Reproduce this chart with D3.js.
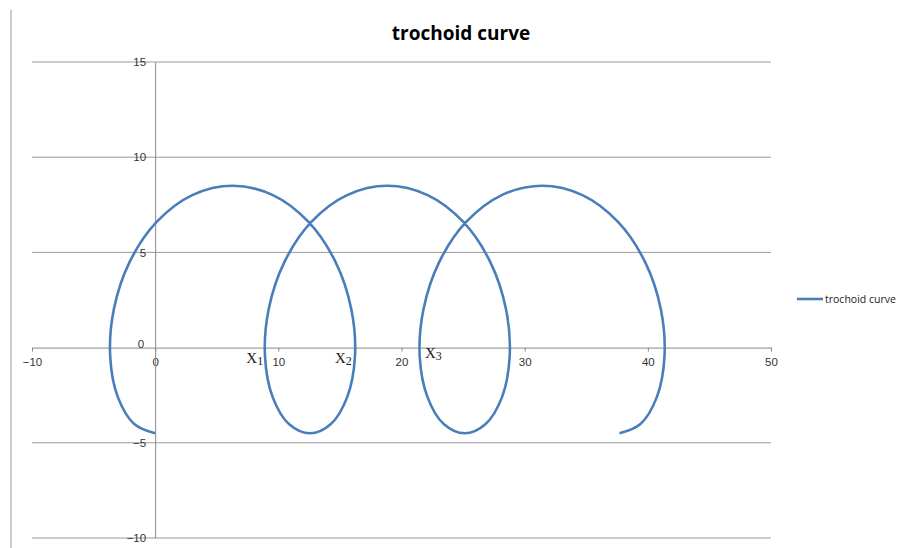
<!DOCTYPE html>
<html>
<head>
<meta charset="utf-8">
<script src="https://cdn.jsdelivr.net/npm/d3@7"></script>
<style>
  body { margin: 0; background: #fff; }
  svg { font-family: "Open Sans", "Liberation Sans", sans-serif; }
</style>
</head>
<body>
<svg id="chart" width="899" height="548"></svg>
<script>
// curve points (x, y)
const curveX = [0, -1.70, -3.03, -3.65, -3.36, -2.08, 0.12, 3.01, 6.28, 9.56, 12.45, 14.65, 15.93, 16.22, 15.59, 14.27,
  12.57, 10.86, 9.54, 8.92, 9.21, 10.49, 12.68, 15.58, 18.85, 22.12, 25.02, 27.21, 28.49, 28.78, 28.16, 26.83,
  25.13, 23.43, 22.11, 21.48, 21.78, 23.06, 25.25, 28.14, 31.42, 34.69, 37.58, 39.78, 41.06, 41.35, 40.73, 39.40, 37.70];
const curveY = [-4.5, -4.01, -2.60, -0.49, 2, 4.49, 6.60, 8.01, 8.5, 8.01, 6.60, 4.49, 2, -0.49, -2.60, -4.01,
  -4.5, -4.01, -2.60, -0.49, 2, 4.49, 6.60, 8.01, 8.5, 8.01, 6.60, 4.49, 2, -0.49, -2.60, -4.01,
  -4.5, -4.01, -2.60, -0.49, 2, 4.49, 6.60, 8.01, 8.5, 8.01, 6.60, 4.49, 2, -0.49, -2.60, -4.01, -4.5];
const xTicks = [-10, 0, 10, 20, 30, 40, 50];
const yTicks = [-10, -5, 0, 5, 10, 15];
const markLabels = [
  { name: "X", sub: "1", x: 7.4, y: -0.8 },
  { name: "X", sub: "2", x: 14.6, y: -0.8 },
  { name: "X", sub: "3", x: 21.9, y: -0.55 }
];
const seriesName = "trochoid curve";

const svg = d3.select("#chart");
const blue = "#4a7ebb";

const x = d3.scaleLinear().domain([-10, 50]).range([32, 771]);
const y = d3.scaleLinear().domain([-10, 15]).range([538, 62]);

// outer border line on the left
svg.append("line")
    .attr("x1", 11).attr("x2", 11)
    .attr("y1", 10).attr("y2", 548)
    .attr("stroke", "#bbb").attr("stroke-width", 1.5);

// title
svg.append("text")
    .attr("x", 461).attr("y", 40)
    .attr("text-anchor", "middle")
    .style("font-size", "19px")
    .style("font-weight", "bold")
    .attr("fill", "#000")
    .text("trochoid curve");

// horizontal gridlines
svg.append("g")
    .selectAll("line")
    .data(yTicks.filter(d => d !== 0))
    .join("line")
    .attr("x1", x(-10)).attr("x2", x(50))
    .attr("y1", d => y(d)).attr("y2", d => y(d))
    .attr("stroke", "#999").attr("stroke-width", 1);

// x axis at y = 0
const xAxis = svg.append("g")
    .attr("transform", `translate(0,${y(0)})`)
    .call(d3.axisBottom(x).tickValues(xTicks).tickSize(4).tickSizeOuter(0));
xAxis.select(".domain").attr("stroke", "#888");
xAxis.selectAll(".tick line").attr("stroke", "#888");
xAxis.selectAll(".tick text")
    .attr("y", 10)
    .style("font-size", "11.5px")
    .attr("fill", "#333");

// y axis at x = 0
const yAxis = svg.append("g")
    .attr("transform", `translate(${x(0)},0)`)
    .call(d3.axisLeft(y).tickValues(yTicks).tickSize(0).tickSizeOuter(0));
yAxis.select(".domain").attr("stroke", "#888");
yAxis.selectAll(".tick text")
    .attr("x", d => d === 0 ? -11 : -9)
    .attr("dy", "0.32em")
    .attr("transform", d => d === 0 ? "translate(0,-4)" : null)
    .style("font-size", "11.5px")
    .attr("fill", "#333");

// the curve
const pts = curveX.map((v, i) => [v, curveY[i]]);
const line = d3.line()
    .x(d => x(d[0]))
    .y(d => y(d[1]))
    .curve(d3.curveCatmullRom.alpha(0.5));

svg.append("path")
    .datum(pts)
    .attr("d", line)
    .attr("fill", "none")
    .attr("stroke", blue)
    .attr("stroke-width", 2.6);

// X1, X2, X3 labels
const marks = svg.append("g")
    .style("font-family", "'Liberation Serif', 'DejaVu Serif', serif")
    .attr("fill", "#222");
marks.selectAll("text")
    .data(markLabels)
    .join("text")
    .attr("x", d => x(d.x))
    .attr("y", d => y(d.y))
    .style("font-size", "15px")
    .each(function (d) {
        const t = d3.select(this);
        t.append("tspan").text(d.name);
        t.append("tspan").attr("dy", 2).style("font-size", "12px").text(d.sub);
    });

// legend
svg.append("line")
    .attr("x1", 797).attr("x2", 823)
    .attr("y1", 299).attr("y2", 299)
    .attr("stroke", blue).attr("stroke-width", 2.6);
svg.append("text")
    .attr("x", 825).attr("y", 303)
    .style("font-size", "10.5px")
    .attr("fill", "#222")
    .text(seriesName);
</script>
</body>
</html>
